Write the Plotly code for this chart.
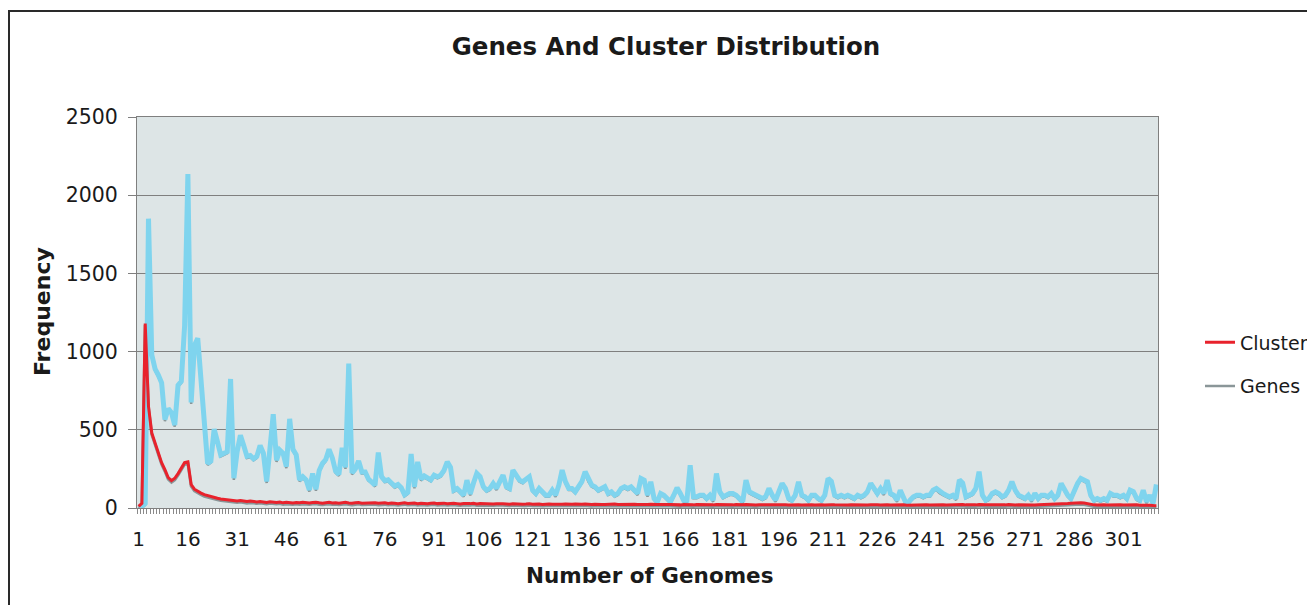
import plotly.graph_objects as go

# ---------------- data ----------------
genomes = list(range(1, 312))

genes = [
    0, 0, 20, 1840, 970, 880, 840, 790, 555, 625,
    600, 520, 775, 800, 1155, 2125, 665, 1030, 1075, 775,
    520, 275, 290, 495, 415, 330, 340, 350, 815, 180,
    350, 455, 390, 320, 325, 305, 320, 390, 340, 160,
    370, 590, 295, 360, 340, 255, 560, 365, 330, 170,
    190, 170, 105, 211, 110, 230, 275, 300, 365, 310,
    225, 205, 375, 250, 914, 215, 240, 290, 220, 220,
    175, 160, 136, 345, 190, 165, 170, 150, 130, 140,
    120, 75, 90, 335, 125, 285, 175, 195, 180, 170,
    200, 190, 200, 230, 285, 250, 104, 115, 94, 72,
    168, 80, 150, 211, 190, 126, 104, 115, 147, 115,
    158, 200, 126, 115, 232, 200, 168, 158, 179, 190,
    104, 83, 115, 94, 72, 72, 104, 72, 136, 232,
    158, 115, 115, 94, 126, 158, 222, 168, 136, 126,
    104, 115, 126, 83, 94, 72, 83, 115, 126, 115,
    126, 104, 83, 179, 168, 72, 158, 51, 30, 83,
    72, 51, 30, 72, 119, 83, 40, 40, 264, 62,
    62, 72, 72, 51, 72, 40, 211, 94, 62, 72,
    83, 83, 72, 51, 30, 168, 94, 83, 72, 62,
    51, 62, 115, 72, 40, 94, 147, 115, 51, 40,
    72, 158, 72, 62, 40, 72, 72, 51, 40, 72,
    179, 160, 72, 62, 72, 62, 72, 62, 51, 72,
    62, 72, 94, 147, 115, 83, 115, 83, 168, 83,
    72, 40, 104, 51, 9, 40, 62, 72, 72, 62,
    72, 72, 104, 115, 94, 83, 72, 62, 72, 51,
    170, 150, 62, 72, 83, 115, 222, 72, 40, 51,
    83, 94, 83, 62, 72, 104, 158, 104, 72, 62,
    51, 72, 40, 83, 51, 72, 72, 62, 83, 51,
    72, 147, 104, 72, 51, 104, 147, 179, 168, 158,
    72, 40, 51, 40, 51, 40, 83, 72, 72, 62,
    72, 51, 104, 94, 51, 40, 104, 30, 72, 20,
    140,
]

clusters = [
    0, 20, 1170, 640, 470, 405, 340, 280, 235, 185,
    165, 180, 210, 250, 280, 285, 140, 110, 95, 85,
    75, 68, 62, 58, 52, 48, 45, 42, 40, 37,
    35, 38, 33, 31, 34, 30, 29, 32, 27, 26,
    30, 27, 25, 28, 23, 26, 24, 22, 25, 23,
    26, 24, 22, 25, 27, 23, 21, 24, 26, 22,
    24, 21, 23, 26, 22, 20, 23, 25, 21, 22,
    19, 22, 24, 20, 21, 23, 19, 22, 20, 18,
    21, 23, 19, 20, 22, 18, 21, 19, 17, 20,
    22, 18, 19, 21, 17, 19, 20, 18, 16, 19,
    17, 18, 20, 16, 18, 17, 15, 18, 16, 17,
    15, 17, 16, 14, 17, 15, 16, 14, 15, 17,
    14, 16, 15, 13, 15, 16, 14, 13, 15, 14,
    16, 13, 14, 15, 13, 14, 16, 13, 12, 14,
    15, 13, 12, 14, 13, 15, 12, 13, 14, 12,
    13, 14, 12, 11, 13, 12, 14, 11, 12, 13,
    11, 12, 13, 11, 12, 10, 13, 11, 12, 10,
    12, 11, 10, 12, 11, 10, 12, 11, 10, 12,
    11, 10, 12, 10, 11, 12, 10, 11, 9, 11,
    10, 12, 11, 9, 10, 11, 12, 10, 9, 11,
    10, 11, 9, 10, 12, 10, 9, 11, 10, 9,
    12, 11, 10, 9, 11, 10, 9, 11, 10, 9,
    10, 11, 9, 10, 12, 10, 9, 11, 10, 9,
    10, 9, 11, 10, 8, 9, 11, 10, 9, 10,
    11, 9, 10, 12, 10, 11, 9, 10, 11, 9,
    10, 12, 10, 9, 11, 10, 12, 9, 10, 11,
    9, 10, 11, 9, 10, 12, 10, 9, 11, 10,
    9, 11, 10, 9, 10, 11, 9, 10, 12, 11,
    13, 15, 17, 19, 21, 23, 25, 24, 22, 18,
    12, 10, 9, 11, 10, 9, 10, 11, 9, 10,
    9, 10, 8, 9, 10, 8, 9, 7, 8, 6,
    5,
]

x_tick_values = [1, 16, 31, 46, 61, 76, 91, 106, 121, 136, 151, 166, 181,
                 196, 211, 226, 241, 256, 271, 286, 301]
x_tick_labels = [str(v) for v in x_tick_values]
y_tick_values = [0, 500, 1000, 1500, 2000, 2500]

# ---------------- layout geometry (pixels, page coords) ----------------
OFF = 8                      # default page margin of the html body
W, H = 1315 - OFF, 605 - OFF
L, R, T, B = 137 - OFF, 1158 - OFF, 117 - OFF, 508 - OFF
pw, ph = R - L, B - T


def px_x(p):                 # page pixel -> paper x
    return (p - OFF - L) / pw


def px_y(p):                 # page pixel -> paper y
    return (B - (p - OFF)) / ph


FONT = "DejaVu Sans"
GRID = "#7f7f7f"
TXT = "#1a1a1a"

fig = go.Figure()

# shadows on the base axis (drawn first, underneath)
fig.add_trace(go.Scatter(
    x=genomes, y=genes, name="Genes", mode="lines",
    line=dict(color="#8a9698", width=2.5),
    yaxis="y", legendgroup="g", legendrank=2, hoverinfo="skip"))
fig.add_trace(go.Scatter(
    x=genomes, y=clusters, name="Cluster shadow", mode="lines",
    line=dict(color="#8a9698", width=3),
    yaxis="y", showlegend=False, hoverinfo="skip"))

# main lines on an overlay axis, nudged up ~1.5 px so the shadow shows below
fig.add_trace(go.Scatter(
    x=genomes, y=genes, name="Genes", mode="lines",
    line=dict(color="#7fd4ee", width=5),
    yaxis="y2", showlegend=False))
fig.add_trace(go.Scatter(
    x=genomes, y=clusters, name="Cluster", mode="lines",
    line=dict(color="#e8222c", width=3),
    yaxis="y2", legendgroup="c", legendrank=1))

fig.update_layout(
    width=W, height=H,
    margin=dict(l=L, r=W - R, t=T, b=H - B, autoexpand=False),
    paper_bgcolor="white",
    plot_bgcolor="#dde5e6",
    font=dict(family=FONT, size=20, color=TXT),
    showlegend=True,
    title=dict(text="<b>Genes And Cluster Distribution</b>",
               font=dict(family=FONT, size=24.5, color=TXT),
               xref="container", yref="container",
               x=(666 - OFF) / W, y=1 - (46 - OFF) / H,
               xanchor="center", yanchor="middle"),
    legend=dict(x=px_x(1200), y=px_y(364.5), xanchor="left", yanchor="middle",
                font=dict(family=FONT, size=19, color=TXT),
                bgcolor="rgba(0,0,0,0)", traceorder="grouped",
                tracegroupgap=16),
    xaxis=dict(
        range=[0.5, 311.5], tickmode="array",
        tickvals=x_tick_values, ticktext=x_tick_labels,
        ticks="outside", ticklen=5, tickcolor="rgba(0,0,0,0)",
        ticklabelstandoff=8,
        tickfont=dict(family=FONT, size=20, color=TXT),
        showgrid=False, zeroline=False,
        showline=True, linecolor=GRID, linewidth=1, mirror=True,
        minor=dict(ticks="outside", ticklen=5, tick0=0.5, dtick=1,
                   tickcolor="#8a8a8a", tickwidth=1, showgrid=False),
    ),
    yaxis=dict(
        range=[0, 2500], tickmode="array", tickvals=y_tick_values,
        ticks="outside", ticklen=8, tickcolor=GRID,
        ticklabelstandoff=6,
        tickfont=dict(family=FONT, size=20.5, color=TXT),
        showgrid=True, gridcolor=GRID, gridwidth=1.2,
        zeroline=False,
        showline=True, linecolor=GRID, linewidth=1, mirror=True,
    ),
    yaxis2=dict(range=[-10, 2490], overlaying="y", visible=False),
    annotations=[
        dict(text="<b>Frequency</b>", xref="paper", yref="paper",
             x=px_x(42), y=px_y(312), showarrow=False, textangle=-90,
             font=dict(family=FONT, size=22, color=TXT),
             xanchor="center", yanchor="middle"),
        dict(text="<b>Number of Genomes</b>", xref="paper", yref="paper",
             x=px_x(649), y=px_y(575), showarrow=False,
             font=dict(family=FONT, size=21.5, color=TXT),
             xanchor="center", yanchor="middle"),
    ],
    shapes=[
        dict(type="rect", xref="paper", yref="paper",
             x0=px_x(9), y0=px_y(11), x1=px_x(1340), y1=px_y(630),
             line=dict(color="#2a2a2a", width=2), fillcolor="rgba(0,0,0,0)",
             layer="above"),
    ],
)

fig.write_html("out.html")
